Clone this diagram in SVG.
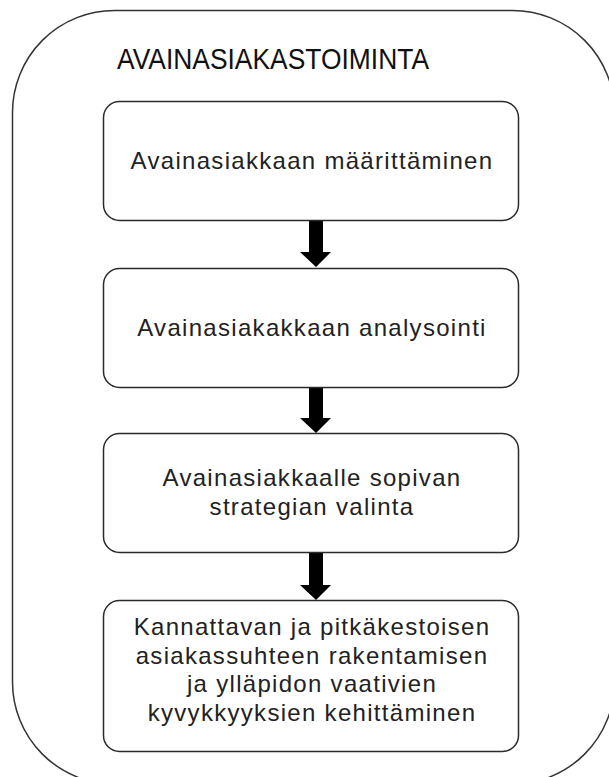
<svg xmlns="http://www.w3.org/2000/svg" width="609" height="777" viewBox="0 0 609 777">
<style>
.box{fill:#fff;stroke:#2b2b2b;stroke-width:1.5}
.outer{fill:#fff;stroke:#333;stroke-width:1.5}
.t{font-family:"Liberation Sans",Arial,sans-serif;font-size:24px;fill:#222;text-anchor:middle;letter-spacing:1.3px}
.title{font-family:"Liberation Sans",Arial,sans-serif;font-size:29px;fill:#111}
.arr{fill:#000}
</style>
<rect width="609" height="777" fill="#fff"/>
<g id="container">
<rect class="outer" x="12.5" y="10.5" width="602" height="773.5" rx="102" ry="102"/>
<text class="title" x="117" y="69" textLength="312" lengthAdjust="spacingAndGlyphs">AVAINASIAKASTOIMINTA</text>
</g>
<g id="connectors">
<path class="arr" d="M309,221 H323 V252 H331 L316,267 L300,252 H309 Z"/>
<path class="arr" d="M309,388 H323 V418 H331 L316,433 L300,418 H309 Z"/>
<path class="arr" d="M309,553 H323 V585 H331 L316,600 L300,585 H309 Z"/>
</g>
<g id="n1">
<rect class="box" x="103.5" y="101.5" width="415" height="119" rx="16"/>
<text class="t" x="312" y="169">Avainasiakkaan määrittäminen</text>
</g>
<g id="n2">
<rect class="box" x="103.5" y="268.5" width="415" height="119" rx="16"/>
<text class="t" x="312" y="336">Avainasiakakkaan analysointi</text>
</g>
<g id="n3">
<rect class="box" x="103.5" y="433.5" width="415" height="119" rx="16"/>
<text class="t" x="312" y="486">Avainasiakkaalle sopivan</text>
<text class="t" x="312" y="515">strategian valinta</text>
</g>
<g id="n4">
<rect class="box" x="103.5" y="600.5" width="415" height="151" rx="16"/>
<text class="t" x="312" y="635">Kannattavan ja pitkäkestoisen</text>
<text class="t" x="312" y="664">asiakassuhteen rakentamisen</text>
<text class="t" x="312" y="692">ja ylläpidon vaativien</text>
<text class="t" x="312" y="721">kyvykkyyksien kehittäminen</text>
</g>
</svg>
